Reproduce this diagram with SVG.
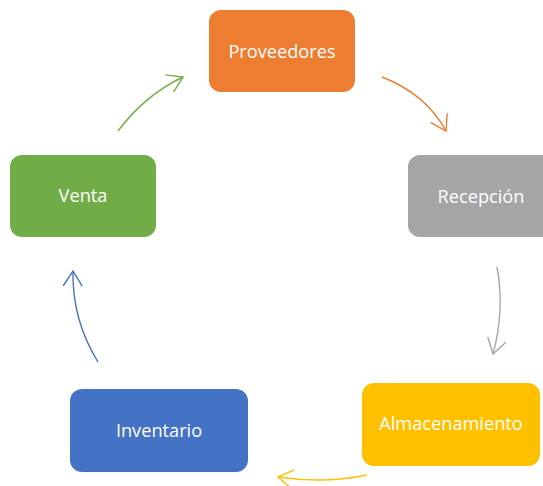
<svg xmlns="http://www.w3.org/2000/svg" width="543" height="486" viewBox="0 0 543 486">
<style>
.box{stroke:none}
.lbl{font-family:"Open Sans","Liberation Sans",sans-serif;font-size:18.2px;fill:#ffffff;text-anchor:middle}
.c{fill:none;stroke-width:1.4}
</style>
<defs>
<marker id="mO" markerUnits="userSpaceOnUse" viewBox="0 0 20 20" refX="16" refY="10" markerWidth="20" markerHeight="20" orient="auto"><path d="M1,0.5 L16,10 L1,19.5" fill="none" stroke="#ED7D31" stroke-width="1.4"/></marker>
<marker id="mG" markerUnits="userSpaceOnUse" viewBox="0 0 20 20" refX="16" refY="10" markerWidth="20" markerHeight="20" orient="auto"><path d="M1,0.5 L16,10 L1,19.5" fill="none" stroke="#A5A5A5" stroke-width="1.4"/></marker>
<marker id="mY" markerUnits="userSpaceOnUse" viewBox="0 0 20 20" refX="16" refY="10" markerWidth="20" markerHeight="20" orient="auto"><path d="M1,0.5 L16,10 L1,19.5" fill="none" stroke="#FFC000" stroke-width="1.4"/></marker>
<marker id="mB" markerUnits="userSpaceOnUse" viewBox="0 0 20 20" refX="16" refY="10" markerWidth="20" markerHeight="20" orient="auto"><path d="M1,0.5 L16,10 L1,19.5" fill="none" stroke="#4472C4" stroke-width="1.4"/></marker>
<marker id="mV" markerUnits="userSpaceOnUse" viewBox="0 0 20 20" refX="16" refY="10" markerWidth="20" markerHeight="20" orient="auto"><path d="M1,0.5 L16,10 L1,19.5" fill="none" stroke="#70AD47" stroke-width="1.4"/></marker>
</defs>
<g id="connectors">
<path class="c" d="M382,77 Q426,94 446,131" stroke="#ED7D31" marker-end="url(#mO)"/>
<path class="c" d="M497,267 Q505,310 493,354" stroke="#A5A5A5" marker-end="url(#mG)"/>
<path class="c" d="M367,475 Q325,484 278,477" stroke="#FFC000" marker-end="url(#mY)"/>
<path class="c" d="M98,362 Q72,320 73,271" stroke="#4472C4" marker-end="url(#mB)"/>
<path class="c" d="M118,131 Q145,95 183,77" stroke="#70AD47" marker-end="url(#mV)"/>
</g>
<g id="proveedores"><rect class="box" x="209" y="10" width="146" height="82" rx="12" fill="#ED7D31"/><text class="lbl" x="282" y="58">Proveedores</text></g>
<g id="recepcion"><rect class="box" x="408" y="155" width="146" height="82" rx="12" fill="#A5A5A5"/><text class="lbl" x="481" y="203">Recepción</text></g>
<g id="almacenamiento"><rect class="box" x="362" y="383" width="178" height="83" rx="12" fill="#FFC000"/><text class="lbl" x="451" y="430">Almacenamiento</text></g>
<g id="inventario"><rect class="box" x="70" y="389" width="178" height="83" rx="12" fill="#4472C4"/><text class="lbl" x="159" y="437">Inventario</text></g>
<g id="venta"><rect class="box" x="10" y="155" width="146" height="82" rx="12" fill="#70AD47"/><text class="lbl" x="83" y="202">Venta</text></g>
</svg>
